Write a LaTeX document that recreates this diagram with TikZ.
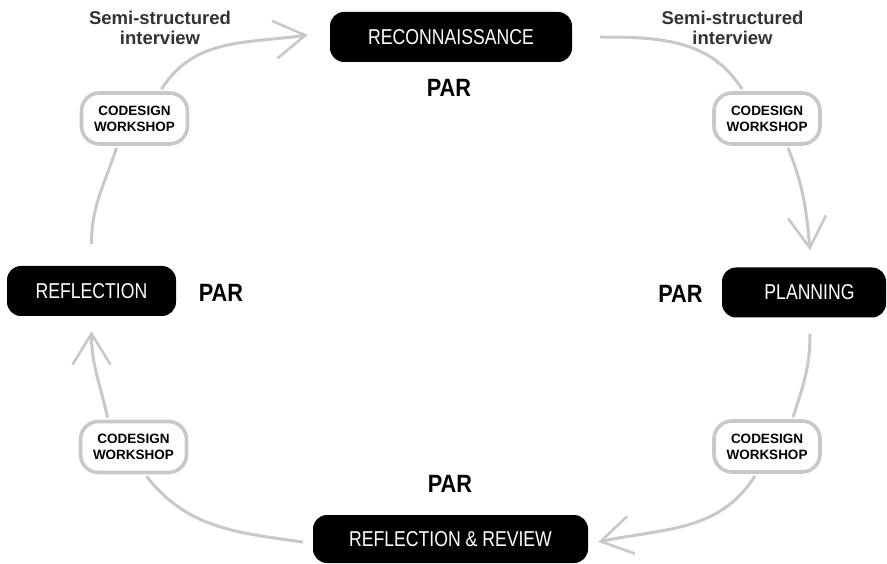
\documentclass[tikz,border=0pt]{standalone}
\usepackage{fontspec}
\setmainfont{Liberation Sans}
\newfontfamily\condfont{Liberation Sans}[FakeStretch=0.82]
\newfontfamily\parcond{Liberation Sans}[FakeStretch=0.87]
\usetikzlibrary{arrows.meta}
\definecolor{lgray}{HTML}{C8C8C8}
\definecolor{dgray}{HTML}{333333}
\tikzset{
  blk/.style={fill=black, rounded corners=14pt, text=white, inner sep=0pt,
    font=\condfont\fontsize{21.5}{24}\selectfont, minimum height=50pt},
  cw/.style={draw=lgray, line width=3.6pt, rounded corners=18pt, fill=white,
    minimum width=106pt, minimum height=51pt, inner sep=0pt, align=center,
    font=\bfseries\fontsize{13.5}{16}\selectfont},
  parlbl/.style={font=\parcond\bfseries\fontsize{25}{28}\selectfont, inner sep=0pt},
  semi/.style={font=\bfseries\fontsize{18.5}{20}\selectfont, text=dgray, align=center, inner sep=0pt},
  conn/.style={draw=lgray, line width=3pt},
  arr/.style={conn, -{Straight Barb[length=31pt,width=38pt,line width=2.6pt]}}
}
\begin{document}
\begin{tikzpicture}[x=1pt,y=1pt]
\useasboundingbox (0,0) rectangle (887,-564);
% main boxes
\node[blk, minimum width=242pt] (recon) at (451,-37) {RECONNAISSANCE};
\node[blk, minimum width=169pt] (refl) at (91.5,-291) {REFLECTION};
\node[blk, minimum width=164pt] (plan) at (804,-292.5) {\hspace*{11pt}PLANNING};
\node[blk, minimum width=275pt, minimum height=48pt] (rev) at (450.5,-539) {REFLECTION \& REVIEW};
% PAR labels
\node[parlbl] (par1) at (449,-88) {PAR};
\node[parlbl] (par2) at (221,-293) {PAR};
\node[parlbl] (par3) at (680.5,-294) {PAR};
\node[parlbl] (par4) at (450,-484) {PAR};
% semi-structured interview
\node[semi] (semi1) at (160,-28) {Semi-structured\\interview};
\node[semi] (semi2) at (732.5,-28) {Semi-structured\\interview};
% codesign workshops
\node[cw] (cwTL) at (134.5,-118.5) {CODESIGN\\WORKSHOP};
\node[cw] (cwTR) at (767,-118.5) {CODESIGN\\WORKSHOP};
\node[cw] (cwBL) at (133.5,-447) {CODESIGN\\WORKSHOP};
\node[cw] (cwBR) at (767,-446.5) {CODESIGN\\WORKSHOP};
% connectors
\draw[arr] ([xshift=27pt,yshift=2pt]cwTL.north) to[out=58,in=188] ([xshift=-22pt,yshift=2pt]recon.west);
\draw[conn] ([xshift=-18pt,yshift=-2pt]cwTL.south) to[out=-108,in=90] ([yshift=22pt]refl.north);
\draw[conn] ([xshift=28pt]recon.east) to[out=0,in=122] ([xshift=-25pt,yshift=2pt]cwTR.north);
\draw[arr] ([xshift=21pt,yshift=-2pt]cwTR.south) to[out=-68,in=95] ([xshift=6pt,yshift=17pt]plan.north);
\draw[conn] ([xshift=6pt,yshift=-16pt]plan.south) to[out=-90,in=72] ([xshift=26pt,yshift=2pt]cwBR.north);
\draw[arr] ([xshift=-12pt,yshift=-2pt]cwBR.south) to[out=-122,in=12] ([xshift=10pt,yshift=-3pt]rev.east);
\draw[conn] ([xshift=-10pt,yshift=-3pt]rev.west) to[out=172,in=-52] ([xshift=13pt,yshift=-2pt]cwBL.south);
\draw[arr] ([xshift=-26pt,yshift=2pt]cwBL.north) to[out=102,in=-90] ([yshift=-15pt]refl.south);
\end{tikzpicture}
\end{document}
